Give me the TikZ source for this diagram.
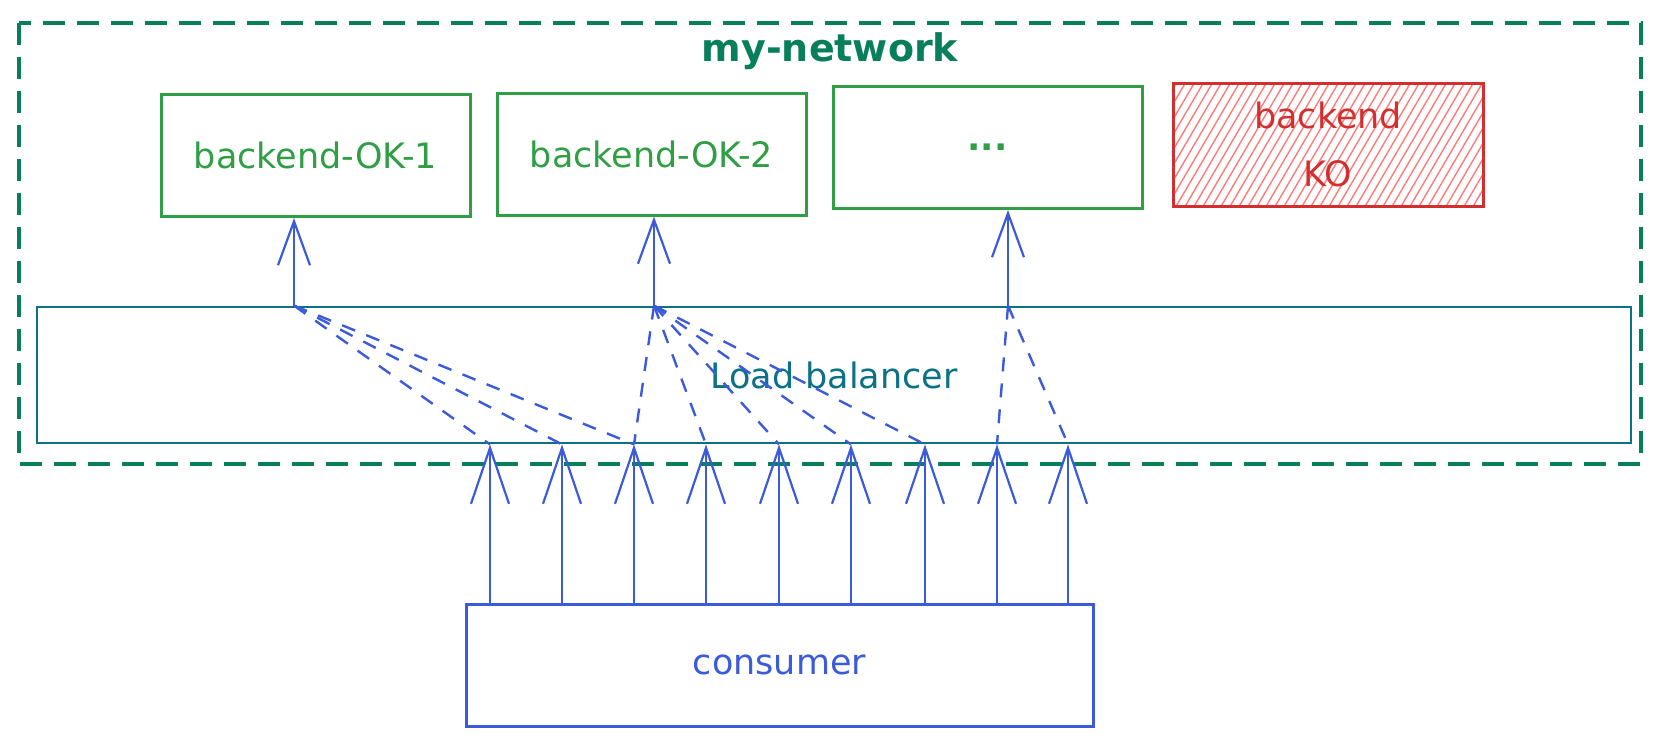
\documentclass[tikz,border=0pt]{standalone}
\usepackage{fontspec}
\setmainfont{DejaVu Sans}
\usetikzlibrary{arrows.meta}
\definecolor{netgreen}{HTML}{087F5B}
\definecolor{okgreen}{HTML}{2F9E44}
\definecolor{kored}{HTML}{D32F2F}
\definecolor{hatchred}{HTML}{FF7B7B}
\definecolor{lbteal}{HTML}{0B7285}
\definecolor{arrblue}{HTML}{3B5BDB}
\tikzset{
  lbl/.style={font=\fontsize{17.5pt}{25pt}\selectfont},
  okbox/.style={draw=okgreen, line width=1.5pt, text=okgreen, lbl, minimum width=154.5pt, minimum height=61pt, inner sep=0pt},
  kobox/.style={draw=kored, line width=1.5pt, text=kored, lbl, minimum width=155pt, minimum height=61.5pt, inner sep=0pt, align=center},
  lbbox/.style={draw=lbteal, line width=1.4pt, text=lbteal, lbl, minimum width=797pt, minimum height=68pt, inner sep=0pt},
  conbox/.style={draw=arrblue, line width=1.5pt, text=arrblue, lbl, minimum width=313.5pt, minimum height=61pt, inner sep=0pt},
  uparr/.style={draw=arrblue, line width=1.1pt, -{Straight Barb[length=22pt, width=16pt, line width=1.1pt]}},
  conarr/.style={draw=arrblue, line width=1.3pt, -{Straight Barb[length=28pt, width=19pt, line width=1.1pt]}},
  dl/.style={draw=arrblue, line width=1.2pt, dash pattern=on 7pt off 6pt},
  netbox/.style={draw=netgreen, line width=1.6pt, dash pattern=on 11pt off 6pt}
}
\begin{document}
\begin{tikzpicture}[x=0.5pt, y=-0.5pt]
\useasboundingbox (0,0) rectangle (1663,745);
% network frame
\coordinate (nw) at (19,23);
\coordinate (se) at (1641,464);
\draw[netbox] (nw) rectangle (se);
\node[text=netgreen, font=\bfseries\fontsize{19pt}{23pt}\selectfont] (title) at (830,51) {my-network};
% backends
\node[okbox] (b1) at (315.5,155.5) {backend-OK-1};
\node[okbox] (b2) at (651.5,154) {backend-OK-2};
\node[okbox] (b3) at (987.5,147.5) {\textbf{...}};
% hatch of the failed backend
\begin{scope}
  \clip (1173,83) rectangle (1483,206);
  \foreach \i in {0,...,46}{
    \draw[hatchred, line width=0.7pt] (1090+9*\i,215) -- (1172+9*\i,75);
  }
\end{scope}
\node[kobox] (ko) at (1328,144.5) {backend\\[4pt]KO};
% load balancer and consumer
\node[lbbox] (lb) at (834,375) {Load balancer};
\node[conbox] (con) at (779.5,665) {consumer};
% x positions
\coordinate (x1) at (294,0);
\coordinate (x2) at (654,0);
\coordinate (x3) at (1008,0);
\foreach \n/\x in {1/490,2/562,3/634,4/706,5/779,6/851,7/925,8/997,9/1068}{
  \coordinate (a\n) at (\x,0);
}
% arrows to backends
\draw[uparr] (lb.north -| x1) -- (b1.south -| x1);
\draw[uparr] (lb.north -| x2) -- (b2.south -| x2);
\draw[uparr] (lb.north -| x3) -- (b3.south -| x3);
% consumer arrows
\foreach \n in {1,...,9}{
  \draw[conarr] (con.north -| a\n) -- (lb.south -| a\n);
}
% dashed routes
\foreach \n in {1,2,3}{ \draw[dl] (lb.north -| x1) -- (lb.south -| a\n); }
\foreach \n in {3,4,5,6,7}{ \draw[dl] (lb.north -| x2) -- (lb.south -| a\n); }
\foreach \n in {8,9}{ \draw[dl] (lb.north -| x3) -- (lb.south -| a\n); }
\end{tikzpicture}
\end{document}
